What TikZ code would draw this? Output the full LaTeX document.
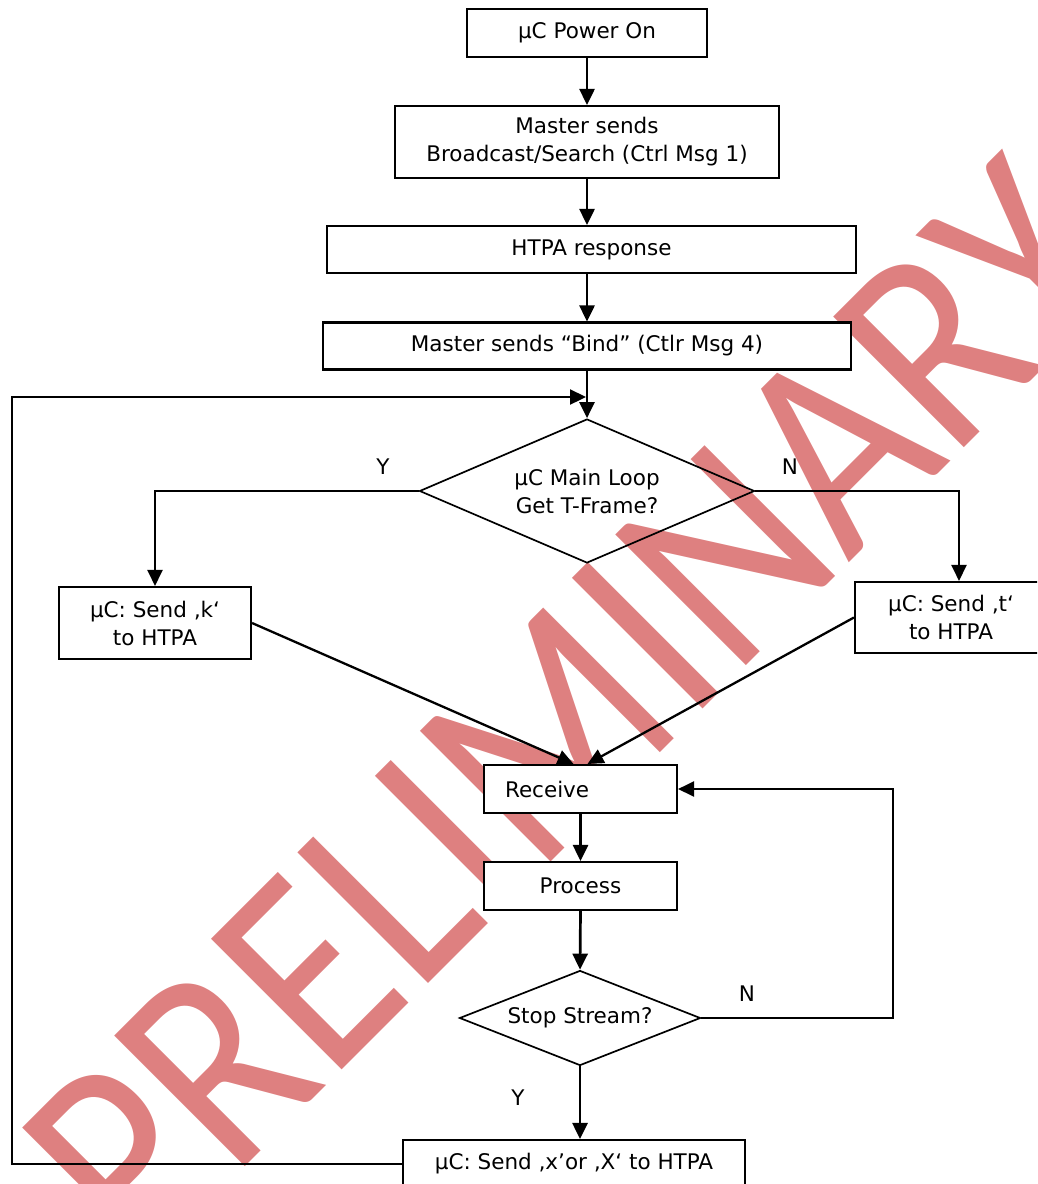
\documentclass[tikz,border=0pt]{standalone}
\usepackage{fontspec}
\setmainfont{DejaVu Sans}
\newfontfamily\wmfont[FakeStretch=0.875]{Carlito}
\usetikzlibrary{shapes.geometric,arrows.meta}
\definecolor{wm}{RGB}{222,128,128}
\begin{document}
\begin{tikzpicture}[x=1pt,y=-1pt,
  txt/.style={font=\fontsize{21.5}{28}\selectfont},
  box/.style={txt, draw, line width=2.1pt, fill=white, inner sep=0pt, align=center},
  dec/.style={txt, draw, diamond, line width=1.7pt, inner sep=0pt, align=center},
  arr/.style={line width=2.7pt, -{Triangle[length=16pt,width=15pt]}},
  thinarr/.style={arr, line width=2.3pt},
  lbl/.style={txt, inner sep=0pt}]
\useasboundingbox (0,0) rectangle (1037,1184);
\clip (0,0) rectangle (1037,1184);
% watermark
\node[text=wm, rotate=45, inner sep=0pt, font={\wmfont\fontsize{288}{288}\selectfont}] (wm) at (571.5,710.5) {PRELIMINARY};
% nodes
\node[box, minimum width=240, minimum height=48] (pwr) at (587,33) {µC Power On};
\node[box, minimum width=384, minimum height=72] (master) at (587,142) {Master sends\\Broadcast/Search (Ctrl Msg 1)};
\node[box, minimum width=529, minimum height=47] (htpa) at (591.5,249.5) {HTPA response};
\node[box, minimum width=528, minimum height=47] (bind) at (587,346) {Master sends “Bind” (Ctlr Msg 4)};
\node[dec, minimum width=335, minimum height=144, aspect=2.3] (d1) at (587,491) {µC Main Loop\\Get T-Frame?};
\node[box, minimum width=192, minimum height=72] (k) at (155,623) {µC: Send ‚k‘\\to HTPA};
\node[box, minimum width=192, minimum height=71] (t) at (951,617.5) {µC: Send ‚t‘\\to HTPA};
\node[box, minimum width=193, minimum height=48, text width=151, align=left] (recv) at (580.5,789) {Receive};
\node[box, minimum width=193, minimum height=48] (proc) at (580.5,886) {Process};
\node[dec, minimum width=241, minimum height=95, aspect=2.5] (stop) at (580,1018) {Stop Stream?};
\node[box, minimum width=342, minimum height=48] (fin) at (574,1164) {µC: Send ‚x’or ‚X‘ to HTPA};
% labels
\node[lbl] (y1) at (383,467) {Y};
\node[lbl] (n1) at (790,467) {N};
\node[lbl] (n2) at (747,994) {N};
\node[lbl] (y2) at (518,1098) {Y};
% helper coordinates
\coordinate (loopL) at (12,397);
\coordinate (loopR) at (586,397);
\coordinate (nR) at (893,1018);
% connectors
\draw[arr] (pwr.south) -- (master.north);
\draw[arr] (master.south) -- (master.south |- htpa.north);
\draw[arr] (bind.north |- htpa.south) -- (bind.north);
\draw[arr] (bind.south) -- (d1.north);
\draw[thinarr] (fin.west) -| (loopL) -- (loopR);
\draw[thinarr] (d1.west) -| (k.north);
\draw[thinarr] (d1.east) -| ([xshift=8pt]t.north);
\draw[thinarr] (k.east) -- ([xshift=-7pt]recv.north);
\draw[thinarr] (t.west) -- ([xshift=7pt]recv.north);
\draw[arr] (recv.south) -- (proc.north);
\draw[arr] (proc.south) -- (stop.north);
\draw[thinarr] (stop.east) -- (nR) |- (recv.east);
\draw[arr] (stop.south) -- (stop.south |- fin.north);
\end{tikzpicture}
\end{document}
